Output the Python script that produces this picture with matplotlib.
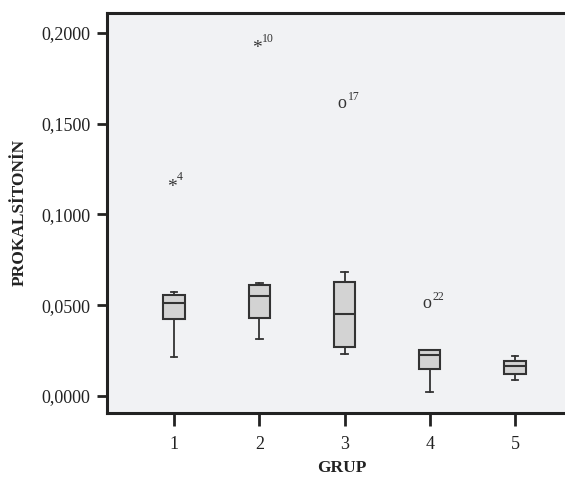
import matplotlib
matplotlib.use("Agg")
import matplotlib.pyplot as plt
from matplotlib.ticker import FuncFormatter

# box statistics
groups = [1, 2, 3, 4, 5]
whislo = [0.0215, 0.0314, 0.0230, 0.0024, 0.0090]
q1 = [0.0422, 0.0430, 0.0272, 0.0147, 0.0121]
med = [0.0514, 0.0549, 0.0450, 0.0224, 0.0164]
q3 = [0.0554, 0.0609, 0.0628, 0.0252, 0.0191]
whishi = [0.0574, 0.0624, 0.0685, 0.0252, 0.0222]

# outliers: group, value, marker glyph, case number
out_group = [1, 2, 3, 4]
out_value = [0.1171, 0.1936, 0.1612, 0.0510]
out_glyph = ["*", "*", "o", "o"]
out_case = ["4", "10", "17", "22"]

yticks = [0.0, 0.05, 0.10, 0.15, 0.20]

plt.rcParams["font.family"] = ["Liberation Serif", "DejaVu Serif"]

fig = plt.figure(figsize=(5.65, 4.79), dpi=100)
ax = fig.add_axes([0.190, 0.1384, 0.83, 0.835])
ax.set_facecolor("#f1f2f4")

stats = []
for i in range(len(groups)):
    stats.append({"whislo": whislo[i], "q1": q1[i], "med": med[i],
                  "q3": q3[i], "whishi": whishi[i], "fliers": []})

ax.bxp(stats, positions=groups, widths=0.25, patch_artist=True,
       showfliers=False,
       boxprops=dict(facecolor="#d3d3d3", edgecolor="#333333", linewidth=1.5),
       medianprops=dict(color="#333333", linewidth=1.5),
       whiskerprops=dict(color="#333333", linewidth=1.3),
       capprops=dict(color="#333333", linewidth=1.3),
       capwidths=0.08)

for g, v, m, c in zip(out_group, out_value, out_glyph, out_case):
    if m == "*":
        ax.annotate(m, (g - 0.03, v), xytext=(0, -3), textcoords="offset points",
                    ha="center", va="center", fontsize=14, color="#333333")
    else:
        ax.annotate(m, (g - 0.03, v), xytext=(0, 0), textcoords="offset points",
                    ha="center", va="center", fontsize=13, color="#333333")
    ax.annotate(c, (g - 0.03, v), xytext=(4, 0), textcoords="offset points",
                ha="left", va="bottom", fontsize=8.5, color="#333333")

ax.set_xlim(0.217, 5.72)
ax.set_ylim(-0.0092, 0.2111)
ax.set_xticks(groups)
ax.set_xticklabels([str(g) for g in groups])
ax.set_yticks(yticks)
ax.yaxis.set_major_formatter(FuncFormatter(lambda v, p: f"{v:.4f}".replace(".", ",")))

for s in ["left", "bottom", "top"]:
    ax.spines[s].set_linewidth(2.2)
    ax.spines[s].set_color("#222222")
ax.spines["right"].set_visible(False)

ax.tick_params(axis="y", length=7, width=2, color="#222222", labelsize=13, pad=5,
               labelcolor="#222222")
ax.tick_params(axis="x", length=9, width=2, color="#222222", labelsize=13, pad=8,
               labelcolor="#222222")

ax.set_ylabel("PROKALSİTONİN", fontsize=12.5, fontweight="bold", labelpad=10,
              color="#222222")
ax.set_xlabel("GRUP", fontsize=12.5, fontweight="bold", labelpad=5, color="#222222")

fig.savefig("out.png", dpi=100)
